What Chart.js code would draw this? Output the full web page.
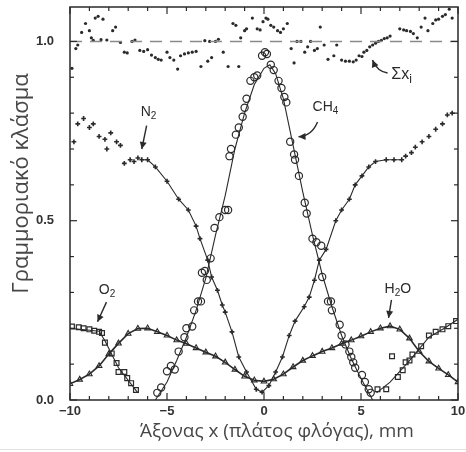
<!DOCTYPE html>
<html><head><meta charset="utf-8">
<script src="https://cdn.jsdelivr.net/npm/chart.js@4.4.1/dist/chart.umd.min.js"></script>
<style>html,body{margin:0;padding:0;background:#fff;}canvas{display:block;}</style>
</head><body>
<canvas id="c" width="466" height="452"></canvas>
<script>
// ---------- text ----------
const X_TITLE = 'Άξονας x (πλάτος φλόγας), mm';
const Y_TITLE = 'Γραμμοριακό κλάσμα';
// ---------- ticks ----------
const X_TICK_LABELS = [-10, -5, 0, 5, 10];
const Y_TICK_LABELS = [0, 0.5, 1.0];
const X_MINOR = [-10,-9,-8,-7,-6,-5,-4,-3,-2,-1,0,1,2,3,4,5,6,7,8,9,10];
const Y_MINOR = [0,0.1,0.2,0.3,0.4,0.5,0.6,0.7,0.8,0.9,1.0];
// ---------- data ----------
const ch4X = [-5.5,-5.3,-5.0,-4.8,-4.6,-4.4,-4.1,-4.0,-3.7,-3.6,-3.4,-3.25,-3.2,-3.05,-2.95,-2.75,-2.55,-2.3,-2.0,-1.85,-1.78,-1.7,-1.45,-1.3,-1.1,-1.0,-0.9,-0.7,-0.5,-0.35,-0.1,0.05,0.15,0.35,0.5,0.75,0.9,1.05,1.15,1.35,1.55,1.6,1.8,2.1,2.2,2.5,2.7,2.95,3.0,3.3,3.45,3.5,3.9,4.0,4.2,4.4,4.5,4.6,4.7,5.05,5.2,5.4,5.5];
const ch4Y = [0.02,0.035,0.08,0.095,0.085,0.135,0.175,0.2,0.205,0.25,0.275,0.275,0.355,0.36,0.335,0.395,0.48,0.51,0.53,0.53,0.68,0.70,0.74,0.76,0.79,0.815,0.84,0.89,0.90,0.905,0.96,0.97,0.965,0.935,0.92,0.89,0.87,0.845,0.83,0.72,0.685,0.67,0.625,0.55,0.52,0.45,0.44,0.43,0.343,0.275,0.275,0.25,0.21,0.18,0.155,0.135,0.12,0.105,0.09,0.07,0.05,0.03,0.02];
const ch4FitX = [-5.6,-5.0,-4.5,-4.0,-3.5,-3.0,-2.5,-2.0,-1.5,-1.0,-0.5,0.0,0.3,0.6,1.0,1.5,2.0,2.5,3.0,3.5,4.0,4.5,5.0,5.6];
const ch4FitY = [0.0,0.05,0.11,0.175,0.25,0.34,0.46,0.57,0.70,0.80,0.88,0.925,0.935,0.91,0.84,0.71,0.58,0.46,0.35,0.26,0.18,0.115,0.06,0.0];
const n2X = [-9.8,-9.6,-9.3,-9.0,-8.8,-8.5,-8.2,-8.1,-7.9,-7.6,-7.4,-7.2,-6.9,-6.7,-6.5,-6.3,-6.0,-5.6,-5.0,-4.4,-3.9,-3.5,-3.3,-2.9,-2.7,-2.4,-2.15,-2.0,-1.65,-1.3,-0.9,-0.4,-0.1,0.25,0.6,0.95,1.3,1.6,2.07,2.33,2.6,2.85,3.2,3.7,4.0,4.4,4.7,5.05,5.4,5.75,6.3,6.7,7.1,7.3,7.6,7.8,8.15,8.5,8.85,9.2,9.45,9.7];
const n2Y = [0.72,0.77,0.785,0.76,0.77,0.735,0.727,0.70,0.745,0.72,0.71,0.66,0.67,0.665,0.675,0.67,0.67,0.65,0.61,0.56,0.53,0.485,0.45,0.39,0.343,0.306,0.265,0.245,0.19,0.12,0.078,0.03,0.022,0.04,0.078,0.12,0.18,0.22,0.26,0.287,0.334,0.39,0.42,0.50,0.53,0.56,0.60,0.625,0.65,0.665,0.67,0.67,0.67,0.68,0.69,0.705,0.72,0.735,0.755,0.77,0.795,0.80];
const h2oX = [-10,-9.5,-9,-8.5,-8,-7.5,-7,-6.5,-6,-5.5,-5,-4.5,-4,-3.5,-3,-2.5,-2,-1.5,-1,-0.5,0,0.5,1,1.5,2,2.5,3,3.5,4,4.5,5,5.5,6,6.5,7,7.5,8,8.5,9,9.5,10];
const h2oY = [0.045,0.057,0.072,0.095,0.128,0.158,0.185,0.199,0.2,0.19,0.18,0.167,0.157,0.145,0.133,0.122,0.105,0.085,0.066,0.055,0.052,0.058,0.072,0.092,0.11,0.123,0.135,0.145,0.157,0.167,0.178,0.19,0.2,0.206,0.197,0.172,0.135,0.108,0.088,0.07,0.05];
const o2X = [-9.9,-9.55,-9.3,-9.0,-8.75,-8.5,-8.35,-8.2,-7.85,-7.6,-7.5,-7.2,-7.05,-6.85,-6.6,5.85,6.3,6.6,6.9,7.15,7.3,7.5,7.65,8.1,8.5,8.85,9.2,9.5,9.9];
const o2Y = [0.205,0.203,0.2,0.197,0.193,0.19,0.187,0.16,0.13,0.103,0.078,0.078,0.061,0.047,0.028,0.03,0.03,0.122,0.064,0.083,0.105,0.11,0.127,0.15,0.18,0.19,0.197,0.206,0.22];
const o2FitLeftX = [-10,-8.5,-8.2,-7.5,-6.5];
const o2FitLeftY = [0.2,0.192,0.165,0.09,0.02];
const o2FitRightX = [5.8,6.5,7.5,8.5,9.3,10];
const o2FitRightY = [0.02,0.05,0.11,0.175,0.2,0.225];
const sumX = [-9.9,-9.7,-9.6,-9.4,-9.2,-9.0,-8.9,-8.8,-8.7,-8.55,-8.4,-8.3,-8.1,-7.8,-7.65,-7.4,-7.2,-7.05,-6.8,-6.65,-6.4,-6.2,-6.0,-5.8,-5.6,-5.45,-5.3,-5.0,-4.85,-4.65,-4.45,-4.3,-4.1,-3.9,-3.7,-3.5,-3.25,-3.05,-2.9,-2.8,-2.7,-2.5,-2.35,-2.1,-1.85,-1.6,-1.45,-1.3,-1.2,-1.0,-0.9,-0.6,-0.35,-0.2,-0.05,0.1,0.2,0.35,0.5,0.7,0.85,1.0,1.2,1.4,1.55,1.7,1.9,2.1,2.25,2.4,2.6,2.75,2.9,3.1,3.3,3.6,3.75,4.0,4.2,4.4,4.6,4.75,4.9,5.05,5.15,5.3,5.45,5.6,5.75,5.9,6.05,6.2,6.35,6.5,7.0,7.2,7.35,7.55,7.7,7.9,8.1,8.3,8.45,8.7,8.85,9.0,9.2,9.35,9.55,9.7];
const sumY = [0.925,0.98,0.99,1.025,1.05,1.03,1.01,1.003,1.065,1.07,1.005,1.062,1.004,1.03,1.04,0.997,0.97,0.968,1.0,1.004,0.975,0.972,0.977,0.962,0.955,0.95,0.948,0.97,0.955,0.948,0.923,0.96,0.965,0.968,0.97,0.972,0.93,1.002,0.945,1.0,0.955,1.0,1.006,0.97,0.93,1.05,1.045,0.93,1.01,1.03,1.035,1.065,1.035,1.032,1.055,1.065,1.062,1.045,1.04,1.03,1.025,1.035,1.05,0.98,0.94,1.0,1.0,0.97,0.985,1.0,0.975,0.98,1.04,0.99,0.95,0.96,0.99,0.948,0.945,0.945,0.943,0.948,0.96,0.958,0.97,0.975,0.985,0.99,0.995,1.0,1.003,1.008,1.01,1.015,1.035,1.032,1.03,1.028,1.022,1.01,1.04,1.065,1.03,1.05,1.06,1.062,1.07,1.075,1.09,1.065];
const refX = [-10, 10];
const refY = [1.0, 1.0];

// ---------- annotations (label text parts, anchored in data coordinates) ----------
const NOTES = [
  {parts:[['N',0],['2',1]], at:[-5.95,0.803], from:[-6.05,0.765], to:[-6.3,0.70], size:14},
  {parts:[['CH',0],['4',1]], at:[3.17,0.817], from:[2.76,0.775], via:[2.45,0.735], to:[1.78,0.734], size:14},
  {parts:[['Σx',0],['i',1]], at:[7.09,0.907], from:[6.37,0.912], via:[5.85,0.915], to:[5.59,0.948], size:16},
  {parts:[['O',0],['2',1]], at:[-8.09,0.307], from:[-8.12,0.273], to:[-8.58,0.218], size:14},
  {parts:[['H',0],['2',1],['O',0]], at:[6.9,0.31], from:[6.57,0.279], to:[6.42,0.229], size:14}
];

const zip = (xs, ys) => xs.map((x, i) => ({x, y: ys[i]}));
const INK = '#2a2a2a';

const decor = {
  id: 'decor',
  afterDatasetsDraw(chart) {
    const {ctx, chartArea: a, scales: {x, y}} = chart;
    ctx.save();
    ctx.strokeStyle = INK;
    ctx.lineWidth = 1.5;
    ctx.strokeRect(a.left, a.top, a.right - a.left, a.bottom - a.top);
    ctx.lineWidth = 1.2;
    const seg = (x1, y1, x2, y2) => { ctx.beginPath(); ctx.moveTo(x1, y1); ctx.lineTo(x2, y2); ctx.stroke(); };
    X_MINOR.forEach(v => {
      const px = x.getPixelForValue(v);
      const len = (v % 5 === 0) ? 7 : 4;
      seg(px, a.bottom, px, a.bottom - len);
      seg(px, a.top, px, a.top + len);
    });
    Y_MINOR.forEach(v => {
      const py = y.getPixelForValue(v);
      const len = (Math.abs(v * 2 - Math.round(v * 2)) < 1e-6) ? 7 : 4;
      seg(a.left, py, a.left + len, py);
      seg(a.right, py, a.right - len, py);
    });
    // annotations
    ctx.fillStyle = INK;
    ctx.textBaseline = 'middle';
    NOTES.forEach(n => {
      const size = n.size;
      const fontOf = sub => (sub ? Math.round(size * 0.72) : size) + 'px "Liberation Sans", Arial, sans-serif';
      let w = 0;
      n.parts.forEach(([t, sub]) => { ctx.font = fontOf(sub); w += ctx.measureText(t).width; });
      let cx = x.getPixelForValue(n.at[0]) - w / 2;
      const cy = y.getPixelForValue(n.at[1]);
      ctx.textAlign = 'left';
      n.parts.forEach(([t, sub]) => {
        ctx.font = fontOf(sub);
        ctx.fillText(t, cx, cy + (sub ? size * 0.32 : 0));
        cx += ctx.measureText(t).width;
      });
      const fx = x.getPixelForValue(n.from[0]), fy = y.getPixelForValue(n.from[1]);
      const tx = x.getPixelForValue(n.to[0]), ty = y.getPixelForValue(n.to[1]);
      ctx.lineWidth = 1.4;
      ctx.beginPath();
      ctx.moveTo(fx, fy);
      let dx, dy;
      if (n.via) {
        const vx = x.getPixelForValue(n.via[0]), vy = y.getPixelForValue(n.via[1]);
        ctx.quadraticCurveTo(vx, vy, tx, ty);
        dx = tx - vx; dy = ty - vy;
      } else {
        ctx.lineTo(tx, ty);
        dx = tx - fx; dy = ty - fy;
      }
      ctx.stroke();
      const L = Math.hypot(dx, dy) || 1;
      const ux = dx / L, uy = dy / L;
      const hl = 7, hw = 3.5;
      ctx.beginPath();
      ctx.moveTo(tx, ty);
      ctx.lineTo(tx - ux * hl - uy * hw, ty - uy * hl + ux * hw);
      ctx.lineTo(tx - ux * hl + uy * hw, ty - uy * hl - ux * hw);
      ctx.closePath();
      ctx.fill();
    });
    // axis titles
    ctx.fillStyle = '#474747';
    ctx.textAlign = 'center';
    ctx.textBaseline = 'middle';
    ctx.font = '19px "Open Sans", sans-serif';
    ctx.fillText(X_TITLE, (a.left + a.right) / 2 + 13, 432);
    ctx.save();
    ctx.font = '22px "Open Sans", sans-serif';
    ctx.translate(22, (a.top + a.bottom) / 2 - 20);
    ctx.rotate(-Math.PI / 2);
    ctx.fillText(Y_TITLE, 0, 0);
    ctx.restore();
    // faint bottom border of the picture
    ctx.strokeStyle = '#e2e2e2';
    ctx.lineWidth = 1;
    seg(0, 449.5, chart.width, 449.5);
    ctx.restore();
  }
};

const tickFont = {family: '"Liberation Sans", Arial, sans-serif', size: 13, weight: 'bold'};

new Chart(document.getElementById('c'), {
  type: 'scatter',
  data: {
    datasets: [
      {data: zip(refX, refY), showLine: true, pointRadius: 0, borderColor: '#8a8a8a', borderWidth: 1.5, borderDash: [12, 8]},
      {data: zip(sumX, sumY), showLine: false, pointRadius: 1.6, pointBackgroundColor: INK, pointBorderColor: INK, borderWidth: 0},
      {data: zip(ch4FitX, ch4FitY), showLine: true, pointRadius: 0, borderColor: INK, borderWidth: 1.1},
      {data: zip(ch4X, ch4Y), showLine: false, pointStyle: 'circle', pointRadius: 3.6, pointBorderWidth: 1.2, pointBorderColor: INK, pointBackgroundColor: 'rgba(0,0,0,0)'},
      {data: zip(o2FitLeftX, o2FitLeftY), showLine: true, pointRadius: 0, borderColor: INK, borderWidth: 1.1},
      {data: zip(o2FitRightX, o2FitRightY), showLine: true, pointRadius: 0, borderColor: INK, borderWidth: 1.1},
      {data: zip(o2X, o2Y), showLine: false, pointStyle: 'rect', pointRadius: 3.4, pointBorderWidth: 1.2, pointBorderColor: INK, pointBackgroundColor: 'rgba(0,0,0,0)'},
      {data: zip(h2oX, h2oY), showLine: true, borderColor: INK, borderWidth: 1.6, pointStyle: 'triangle', pointRadius: 3.2, pointBorderWidth: 1.1, pointBorderColor: INK, pointBackgroundColor: 'rgba(0,0,0,0)'},
      {data: zip(n2X, n2Y), showLine: true, borderColor: INK, borderWidth: 1.1, pointStyle: 'cross', pointRadius: 2.4, pointBorderWidth: 1.6, pointBorderColor: INK,
        segment: {borderColor: c => (c.p0.parsed.x < -6.4 || c.p1.parsed.x > 7.2) ? 'rgba(0,0,0,0)' : INK}}
    ]
  },
  options: {
    responsive: false,
    animation: false,
    devicePixelRatio: 1,
    layout: {padding: {left: 0, right: 8, top: 7, bottom: 0}},
    plugins: {legend: {display: false}, tooltip: {enabled: false}},
    elements: {line: {tension: 0}},
    scales: {
      x: {
        type: 'linear', min: -10, max: 10,
        grid: {display: false, drawTicks: false}, border: {display: false},
        ticks: {stepSize: 5, autoSkip: false, maxRotation: 0, includeBounds: false, padding: 4, color: '#333', font: tickFont,
          callback: v => X_TICK_LABELS.includes(v) ? (v < 0 ? '−' + Math.abs(v) : String(v)) : ''},
        afterFit: s => { s.height = 52; s.paddingLeft = 0; s.paddingRight = 0; }
      },
      y: {
        type: 'linear', min: 0, max: 1.096,
        grid: {display: false, drawTicks: false}, border: {display: false},
        ticks: {stepSize: 0.5, autoSkip: false, includeBounds: false, padding: 16, color: '#333', font: tickFont,
          callback: v => Y_TICK_LABELS.some(t => Math.abs(t - v) < 1e-6) ? v.toFixed(1) : ''},
        afterFit: s => { s.width = 70; s.paddingTop = 0; s.paddingBottom = 0; }
      }
    }
  },
  plugins: [decor]
});
</script>
</body></html>
